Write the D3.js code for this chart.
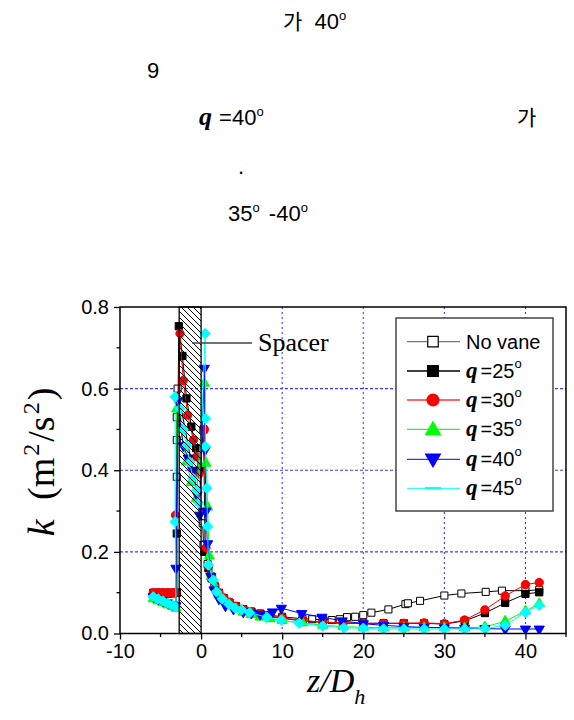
<!DOCTYPE html>
<html><head><meta charset="utf-8">
<script src="https://cdn.jsdelivr.net/npm/d3@7"></script>
<style>body{margin:0;background:#fff} svg{display:block}</style>
</head><body>
<svg id="c" width="574" height="720"></svg>
<script>
// ---------- data ----------
const xTicks = [-10, 0, 10, 20, 30, 40];
const xTickLabels = ["-10", "0", "10", "20", "30", "40"];
const yTicks = [0, 0.2, 0.4, 0.6, 0.8];
const yTickLabels = ["0.0", "0.2", "0.4", "0.6", "0.8"];
const seriesLabels = ["No vane", "25", "30", "35", "40", "45"];
const spacerRange = [-2.7, 0];

const noVane = [[-5.9,0.1],[-5.3,0.1],[-4.7,0.1],[-4.1,0.1],[-3.5,0.1],[-3.0,0.1],[-3.0,0.384],[-3.0,0.474],[-3.0,0.53],[-2.9,0.6],
  [0.2,0.27],[0.3,0.217],[0.4,0.2],[0.8,0.17],[1.2,0.14],[1.7,0.115],[2.2,0.1],[2.8,0.087],[3.5,0.076],[4.3,0.067],[5.2,0.06],[6.2,0.054],
  [7.3,0.049],[8.5,0.045],[10,0.041],[12.5,0.036],[13.7,0.035],[15,0.034],[16.1,0.033],[17.1,0.035],[18,0.04],[19,0.041],[20,0.045],[21,0.051],
  [23.1,0.059],[25.2,0.072],[25.5,0.074],[27,0.08],[30,0.093],[32.1,0.098],[35.1,0.102],[37.1,0.105],[40,0.105],[41.7,0.107]];
const vane25 = [[-5.9,0.098],[-5.3,0.098],[-4.7,0.098],[-4.1,0.098],[-3.5,0.098],[-3.0,0.1],[-3.0,0.245],[-2.75,0.753],[-2.3,0.68],[-1.8,0.576],
  [-1.2,0.507],[-0.6,0.454],[-0.2,0.40],[0.3,0.50],[0.5,0.20],[0.9,0.16],[1.3,0.135],[1.7,0.115],[2.2,0.098],[2.8,0.085],[3.5,0.075],[4.3,0.066],
  [5.2,0.058],[6.2,0.052],[7.3,0.047],[8.5,0.042],[10,0.037],[12.5,0.031],[15,0.027],[17.5,0.025],[20,0.025],[22.5,0.025],[25,0.025],[27.5,0.025],
  [30,0.023],[32.5,0.031],[35,0.05],[37.5,0.075],[40,0.097],[41.7,0.101]];
const vane30 = [[-5.9,0.1],[-5.3,0.1],[-4.7,0.1],[-4.1,0.1],[-3.5,0.1],[-3.1,0.1],[-3.15,0.29],[-2.6,0.735],[-2.2,0.62],[-1.65,0.535],
  [-0.95,0.474],[-0.55,0.433],[-0.3,0.39],[0.4,0.5],[0.6,0.21],[0.9,0.165],[1.3,0.14],[1.7,0.118],[2.2,0.1],[2.8,0.087],[3.5,0.077],[4.3,0.067],
  [5.2,0.059],[6.2,0.053],[7.3,0.048],[8.5,0.043],[10,0.038],[12.5,0.032],[15,0.028],[17.5,0.026],[20,0.025],[22.5,0.025],[25,0.025],[27.5,0.026],
  [30,0.024],[32.5,0.033],[35,0.058],[37.5,0.092],[40,0.12],[41.7,0.125]];
const vane35 = [[-5.9,0.085],[-5.3,0.08],[-4.7,0.075],[-4.1,0.07],[-3.5,0.066],[-3.1,0.062],[-3.0,0.55],[-2.5,0.5],[-1.8,0.42],[-1.2,0.37],
  [-0.6,0.33],[0.4,0.613],[0.6,0.417],[0.8,0.31],[1.0,0.19],[1.3,0.14],[1.7,0.115],[2.2,0.095],[2.8,0.08],[3.5,0.068],[4.3,0.06],[5.2,0.052],
  [6.2,0.046],[7.3,0.04],[8.5,0.036],[10,0.032],[12.5,0.026],[15,0.02],[17.5,0.017],[20,0.015],[22.5,0.014],[25,0.014],[27.5,0.014],[30,0.014],
  [32.5,0.014],[35,0.016],[37.5,0.03],[40,0.055],[41.7,0.073]];
const vane40 = [[-5.9,0.09],[-5.3,0.085],[-4.7,0.08],[-4.1,0.075],[-3.5,0.07],[-3.1,0.068],[-3.1,0.16],[-2.9,0.57],[-2.2,0.46],[-1.6,0.43],
  [-1.0,0.40],[-0.5,0.34],[-0.2,0.29],[0.4,0.65],[0.5,0.45],[0.6,0.30],[0.8,0.22],[1.2,0.14],[1.6,0.107],[2.2,0.085],[3.0,0.068],[4.0,0.06],
  [5.2,0.053],[6.2,0.05],[7.3,0.047],[8.8,0.053],[9.9,0.062],[12.4,0.049],[14.9,0.04],[17.4,0.031],[20,0.024],[22.5,0.02],[25,0.017],[27.5,0.015],
  [30,0.014],[32.5,0.013],[35,0.012],[37.5,0.011],[40,0.011],[41.7,0.011]];
const vane45 = [[-5.9,0.09],[-5.3,0.085],[-4.7,0.08],[-4.1,0.074],[-3.5,0.069],[-3.1,0.065],[-3.2,0.274],[-3.2,0.58],[-2.6,0.55],[-2.2,0.5],
  [-1.8,0.46],[-1.4,0.42],[-1.0,0.38],[-0.6,0.35],[-0.3,0.32],[0.5,0.735],[0.55,0.527],[0.5,0.458],[0.7,0.356],[0.8,0.262],[0.9,0.168],[1.5,0.131],
  [1.9,0.102],[2.6,0.085],[3.4,0.072],[4.2,0.062],[5.0,0.058],[6.0,0.051],[8.1,0.04],[9.9,0.033],[12.1,0.025],[15,0.018],[17.6,0.014],[20,0.013],
  [22.5,0.011],[25,0.011],[27.5,0.011],[30,0.011],[32.5,0.011],[35,0.012],[37.5,0.02],[40,0.052],[41.7,0.069]];

// ---------- layout ----------
const svg = d3.select("#c");
const W = 574, H = 720;
const L = 120, R = 566, T = 307, B = 633.5;
const x = d3.scaleLinear().domain([-10, 45]).range([L, R]);
const y = d3.scaleLinear().domain([0, 0.8]).range([B, T]);
const sans = "'Liberation Sans', Arial, sans-serif";
const serif = "'Liberation Serif', 'Times New Roman', serif";
const cjk = "'Noto Sans CJK KR', sans-serif";

svg.append("rect").attr("width", W).attr("height", H).attr("fill", "#fff");

// ---------- top text fragments ----------
function degText(g, xx, yy, parts) {
  const t = g.append("text").attr("x", xx).attr("y", yy).attr("font-family", sans).attr("font-size", 22).attr("fill", "#000");
  parts.forEach(p => {
    const ts = t.append("tspan").text(p.t);
    if (p.f) ts.attr("font-family", p.f);
    if (p.s) ts.attr("font-size", p.s);
    if (p.w) ts.attr("font-weight", p.w);
    if (p.i) ts.attr("font-style", "italic");
    if (p.dy) ts.attr("dy", p.dy);
    if (p.dx) ts.attr("dx", p.dx);
  });
  return t;
}
const topG = svg.append("g");
degText(topG, 283, 29, [{t: "가", f: cjk, s: 21}, {t: " 40", dx: 6}, {t: "o", s: 13, dy: -9}]);
degText(topG, 147, 78, [{t: "9"}]);
degText(topG, 199, 125, [{t: "q", f: serif, w: "bold", i: 1, s: 26}, {t: " =40", dx: 1}, {t: "o", s: 13, dy: -9}]);
degText(topG, 517, 125, [{t: "가", f: cjk, s: 21}]);
degText(topG, 238, 174, [{t: "."}]);
degText(topG, 228, 221, [{t: "35"}, {t: "o", s: 13, dy: -9}, {t: " -40", dy: 9, dx: 3}, {t: "o", s: 13, dy: -9}]);

// ---------- defs ----------
const defs = svg.append("defs");
defs.append("clipPath").attr("id", "clip").append("rect")
  .attr("x", L).attr("y", T).attr("width", R - L).attr("height", B - T);
const pat = defs.append("pattern").attr("id", "hatch").attr("patternUnits", "userSpaceOnUse")
  .attr("width", 6).attr("height", 6);
pat.append("path").attr("d", "M-1,-1 L7,7 M-1,5 L1,7 M5,-1 L7,1").attr("stroke", "#000").attr("stroke-width", 1);

// ---------- grid ----------
const grid = svg.append("g");
[10, 20, 30, 40].forEach(v => grid.append("line").attr("x1", x(v)).attr("x2", x(v)).attr("y1", T).attr("y2", B)
  .attr("stroke", "#2a2aff").attr("stroke-width", 1).attr("stroke-dasharray", "2,3"));
[0.2, 0.4, 0.6].forEach(v => grid.append("line").attr("x1", L).attr("x2", R).attr("y1", y(v)).attr("y2", y(v))
  .attr("stroke", "#3a3aff").attr("stroke-width", 1.2).attr("stroke-dasharray", "3,2"));

// ---------- series ----------
const diamond = r => `M0,${-r}L${r},0L0,${r}L${-r},0Z`;
const series = [
  {data: noVane, line: "#000", sym: d3.symbol(d3.symbolSquare, 50)(), fill: "#fff", stroke: "#000", rot: 0},
  {data: vane25, line: "#000", sym: d3.symbol(d3.symbolSquare, 52)(), fill: "#000", stroke: "#000", rot: 0},
  {data: vane30, line: "#ff0000", sym: d3.symbol(d3.symbolCircle, 55)(), fill: "#ff0000", stroke: "#ff0000", rot: 0},
  {data: vane35, line: "#00ff00", sym: d3.symbol(d3.symbolTriangle, 45)(), fill: "#00ff00", stroke: "#00ff00", rot: 0},
  {data: vane40, line: "#0000ff", sym: d3.symbol(d3.symbolTriangle, 45)(), fill: "#0000ff", stroke: "#0000ff", rot: 180},
  {data: vane45, line: "#00ffff", sym: diamond(5.2), fill: "#00ffff", stroke: "#00ffff", rot: 0}
];
const plot = svg.append("g").attr("clip-path", "url(#clip)");
const lineGen = d3.line().x(d => x(d[0])).y(d => y(d[1]));
series.forEach(s => {
  plot.append("path").attr("d", lineGen(s.data)).attr("fill", "none").attr("stroke", s.line).attr("stroke-width", 1);
  plot.selectAll(null).data(s.data).enter().append("path")
    .attr("d", s.sym)
    .attr("transform", d => `translate(${x(d[0])},${y(d[1])}) rotate(${s.rot})`)
    .attr("fill", s.fill).attr("stroke", s.stroke).attr("stroke-width", 1);
});

// ---------- spacer ----------
svg.append("rect").attr("x", x(spacerRange[0])).attr("y", T)
  .attr("width", x(spacerRange[1]) - x(spacerRange[0])).attr("height", B - T)
  .attr("fill", "url(#hatch)").attr("stroke", "#000").attr("stroke-width", 1.3);
svg.append("line").attr("x1", 192).attr("x2", 252).attr("y1", 343).attr("y2", 343)
  .attr("stroke", "#444").attr("stroke-width", 1.3);
svg.append("text").attr("x", 258).attr("y", 351).attr("font-family", serif).attr("font-size", 26).text("Spacer");

// ---------- frame & axes ----------
svg.append("rect").attr("x", L).attr("y", T).attr("width", R - L).attr("height", B - T)
  .attr("fill", "none").attr("stroke", "#000").attr("stroke-width", 1.5);

const xAxis = d3.axisBottom(x).tickValues(xTicks).tickFormat((d, i) => xTickLabels[i]).tickSize(6).tickPadding(4);
const gx = svg.append("g").attr("transform", `translate(0,${B})`).call(xAxis);
const yAxis = d3.axisLeft(y).tickValues(yTicks).tickFormat((d, i) => yTickLabels[i]).tickSize(6).tickPadding(5);
const gy = svg.append("g").attr("transform", `translate(${L},0)`).call(yAxis);
[gx, gy].forEach(g => {
  g.select(".domain").remove();
  g.selectAll("line").attr("stroke", "#000").attr("stroke-width", 1.3);
  g.selectAll("text").attr("font-family", sans).attr("font-size", 20).attr("fill", "#000");
});
// minor ticks
[-5, 5, 15, 25, 35, 45].forEach(v => svg.append("line").attr("x1", x(v)).attr("x2", x(v)).attr("y1", B).attr("y2", B + 3.5)
  .attr("stroke", "#000").attr("stroke-width", 1.3));
[0.1, 0.3, 0.5, 0.7].forEach(v => svg.append("line").attr("x1", L - 3.5).attr("x2", L).attr("y1", y(v)).attr("y2", y(v))
  .attr("stroke", "#000").attr("stroke-width", 1.3));

// ---------- axis titles ----------
const yl = svg.append("text").attr("transform", "translate(54,462) rotate(-90)").attr("text-anchor", "middle")
  .attr("font-family", serif).attr("font-size", 38).attr("fill", "#000");
yl.append("tspan").attr("font-style", "italic").text("k");
yl.append("tspan").attr("dx", 10).text(" (m");
yl.append("tspan").attr("font-size", 24).attr("dy", -15).attr("dx", 2).text("2");
yl.append("tspan").attr("dy", 15).attr("dx", 2).text("/s");
yl.append("tspan").attr("font-size", 24).attr("dy", -15).attr("dx", 2).text("2");
yl.append("tspan").attr("dy", 15).attr("dx", 2).text(")");

const xl = svg.append("text").attr("x", 307).attr("y", 692).attr("font-family", serif).attr("font-style", "italic")
  .attr("font-size", 34).attr("fill", "#000");
xl.append("tspan").text("z/D");
xl.append("tspan").attr("font-size", 22).attr("dy", 12).text("h");

// ---------- legend ----------
const lg = svg.append("g");
lg.append("rect").attr("x", 396).attr("y", 318).attr("width", 157).attr("height", 193)
  .attr("fill", "#fff").attr("stroke", "#444").attr("stroke-width", 1.5);
const legendRows = [341.7, 371, 400, 429.3, 459.3, 488.3];
const legendLine = ["#777", "#000", "#ff3333", "#33ee33", "#3333ff", "#33ffff"];
const legendSym = [d3.symbol(d3.symbolSquare, 110)(), d3.symbol(d3.symbolSquare, 115)(), d3.symbol(d3.symbolCircle, 110)(),
  d3.symbol(d3.symbolTriangle, 95)(), d3.symbol(d3.symbolTriangle, 95)(), "M-8,-1.2L8,-1.2L8,1.2L-8,1.2Z"];
seriesLabels.forEach((lab, i) => {
  const yy = legendRows[i];
  lg.append("line").attr("x1", 407).attr("x2", 460).attr("y1", yy).attr("y2", yy)
    .attr("stroke", legendLine[i]).attr("stroke-width", 1.3);
  const s = series[i];
  lg.append("path").attr("d", legendSym[i]).attr("transform", `translate(433,${yy + (i === 3 ? 1 : (i === 4 ? -1 : 0))}) rotate(${s.rot})`)
    .attr("fill", s.fill).attr("stroke", i === 5 ? "none" : s.stroke).attr("stroke-width", 1.2);
  const t = lg.append("text").attr("x", 466).attr("y", yy + 7).attr("font-family", sans).attr("font-size", 20).attr("fill", "#000");
  if (i === 0) { t.text(lab); }
  else {
    t.append("tspan").attr("font-family", serif).attr("font-weight", "bold").attr("font-style", "italic").attr("font-size", 23).text("q");
    t.append("tspan").attr("dx", 3).text("=" + lab);
    t.append("tspan").attr("font-size", 13).attr("dy", -10).text("o");
  }
});
</script>
</body></html>
